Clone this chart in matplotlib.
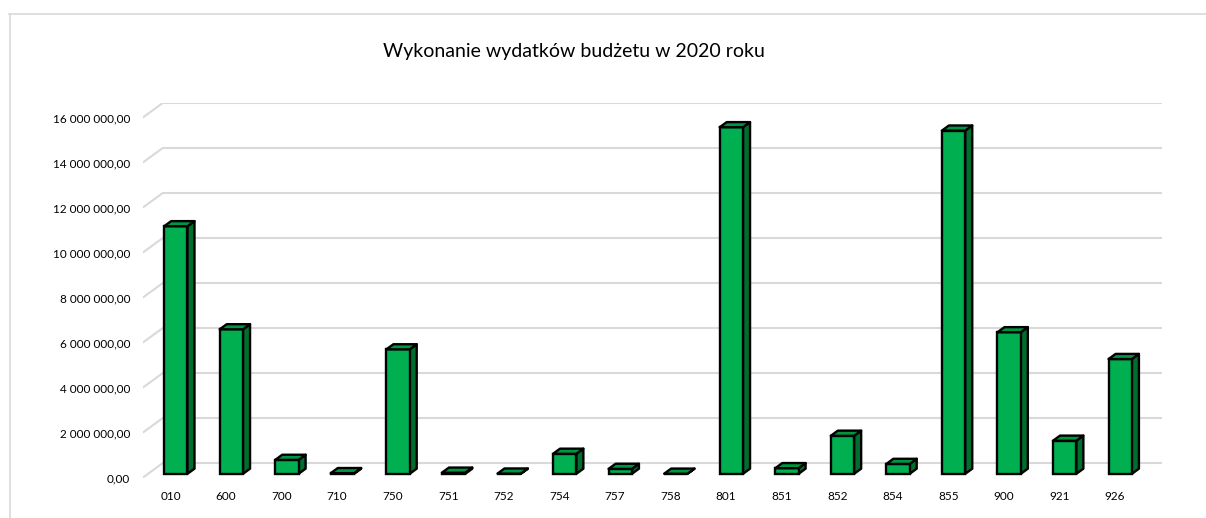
import numpy as np
import matplotlib
matplotlib.use("Agg")
import matplotlib.pyplot as plt
from matplotlib.patches import Polygon
from matplotlib.lines import Line2D
import matplotlib as mpl
mpl.rcParams.update({'font.family': ['Lato', 'DejaVu Sans']})

# data
categories = ['010', '600', '700', '710', '750', '751', '752', '754', '757',
              '758', '801', '851', '852', '854', '855', '900', '921', '926']
values = [11000000, 6420000, 620000, 30000, 5530000, 50000, 10000, 890000,
          220000, 5000, 15400000, 250000, 1690000, 440000, 15250000,
          6290000, 1470000, 5100000]
yticks = [0, 2000000, 4000000, 6000000, 8000000, 10000000, 12000000,
          14000000, 16000000]

title = 'Wykonanie wydatków budżetu w 2020 roku'

front_color = '#00b050'
side_color = '#006f2d'
top_color = '#009640'
grid_color = '#d9d9d9'
text_color = '#000000'

W, H = 1206, 518
# depth of the fake 3d box, in data units
DX = 0.353
DY = 0.636e6
BAR_W = 0.42
F0, F1 = 0.27, 0.63
EDGE = 1.7


def fmt(v):
    s = f'{v:,.2f}'
    return s.replace(',', ' ').replace('.', ',')


def budget():
    fig = plt.figure(figsize=(W / 100, H / 100), dpi=100, facecolor='white')
    left, right = 142.7, 1162.3
    bottom, top = 477.7, 103.3
    ax = fig.add_axes([left / W, 1 - bottom / H,
                       (right - left) / W, (bottom - top) / H])
    n = len(categories)
    ax.set_xlim(-0.5, n - 0.5 + DX)
    ax.set_ylim(0, yticks[-1] + DY)

    # gridlines: short diagonal on the side wall + line on the back wall
    for v in yticks:
        ax.plot([-0.5, -0.5 + DX], [v, v + DY], color=grid_color,
                lw=1.5, zorder=1, solid_capstyle='butt')
        ax.plot([-0.5 + DX, n - 0.5 + DX], [v + DY, v + DY],
                color=grid_color, lw=1.5, zorder=1, solid_capstyle='butt')

    x = np.arange(n)
    ax.bar(x + F0 * DX, values, width=BAR_W, bottom=F0 * DY,
           color=front_color, edgecolor='black', linewidth=EDGE, zorder=3)
    for i, v in enumerate(values):
        xl = i - BAR_W / 2
        xr = i + BAR_W / 2
        side = [(xr + F0 * DX, F0 * DY), (xr + F1 * DX, F1 * DY),
                (xr + F1 * DX, v + F1 * DY), (xr + F0 * DX, v + F0 * DY)]
        topf = [(xl + F0 * DX, v + F0 * DY), (xr + F0 * DX, v + F0 * DY),
                (xr + F1 * DX, v + F1 * DY), (xl + F1 * DX, v + F1 * DY)]
        ax.add_patch(Polygon(side, closed=True, facecolor=side_color,
                             edgecolor='black', lw=EDGE, zorder=2,
                             joinstyle='round'))
        ax.add_patch(Polygon(topf, closed=True, facecolor=top_color,
                             edgecolor='black', lw=EDGE, zorder=4,
                             joinstyle='round'))

    ax.set_xticks(x)
    ax.set_xticklabels(categories)
    ax.set_yticks(yticks)
    ax.set_yticklabels([fmt(v) for v in yticks])
    ax.tick_params(axis='x', length=0, pad=9.5, labelsize=8.5,
                   colors=text_color)
    ax.tick_params(axis='y', length=0, pad=9, labelsize=8.5,
                   colors=text_color)
    for spine in ax.spines.values():
        spine.set_visible(False)
    ax.set_facecolor('none')

    fig.text(574 / W, 1 - 52 / H, title, ha='center', va='center',
             fontsize=14, color=text_color)

    # chart border (cut off on the right and bottom)
    fig.add_artist(Line2D([9 / W, 1], [1 - 13.5 / H, 1 - 13.5 / H],
                          transform=fig.transFigure, color=grid_color,
                          lw=1.2))
    fig.add_artist(Line2D([10 / W, 10 / W], [1 - 13.5 / H, 0],
                          transform=fig.transFigure, color=grid_color,
                          lw=1.2))

    fig.savefig('out.png', dpi=100)


if __name__ == '__main__':
    budget()
